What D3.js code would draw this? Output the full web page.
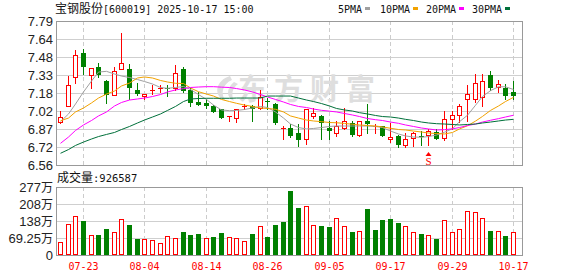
<!DOCTYPE html>
<html>
<head>
<meta charset="utf-8">
<script src="https://cdn.jsdelivr.net/npm/d3@7"></script>
<style>
body{margin:0;background:#fff;}
</style>
</head>
<body>
<svg id="chart" width="578" height="276"></svg>
<script>
// daily k-line data, 宝钢股份
var dates = ['07-18','07-21','07-22','07-23','07-24','07-25','07-28','07-29','07-30','07-31',
  '08-01','08-04','08-05','08-06','08-07','08-08','08-11','08-12','08-13','08-14',
  '08-15','08-18','08-19','08-20','08-21','08-22','08-25','08-26','08-27','08-28',
  '08-29','09-01','09-02','09-03','09-04','09-05','09-08','09-09','09-10','09-11',
  '09-12','09-15','09-16','09-17','09-18','09-19','09-22','09-23','09-24','09-25',
  '09-26','09-29','09-30','10-09','10-10','10-13','10-14','10-15','10-16','10-17'];

var open = [6.93,7.06,7.31,7.52,7.33,7.40,7.28,7.16,7.38,7.38,
  7.20,7.15,7.20,7.22,7.22,7.22,7.38,7.20,7.10,7.09,
  7.06,7.04,6.97,6.96,7.06,7.06,7.05,7.11,7.08,6.88,
  6.88,6.83,6.78,6.98,6.98,6.88,6.83,6.88,6.92,6.82,
  6.94,6.89,6.89,6.78,6.81,6.73,6.79,6.81,6.82,6.84,
  6.79,6.95,6.99,7.12,7.12,7.14,7.33,7.23,7.22,7.18];
var high = [7.02,7.32,7.54,7.55,7.39,7.43,7.29,7.40,7.69,7.42,
  7.26,7.17,7.24,7.24,7.24,7.41,7.40,7.22,7.18,7.12,
  7.07,7.04,6.98,7.04,7.08,7.07,7.20,7.13,7.09,6.89,
  6.91,6.91,7.04,7.05,6.99,6.94,6.94,7.05,6.94,6.94,
  7.08,6.91,6.89,6.92,6.82,6.83,6.84,6.85,6.87,6.87,
  7.02,7.02,7.08,7.24,7.34,7.34,7.36,7.29,7.25,7.28];
var low = [6.92,7.06,7.26,7.34,7.22,7.31,7.09,7.16,7.38,7.12,
  7.16,7.12,7.17,7.18,7.15,7.20,7.18,7.06,7.07,7.05,
  7.01,6.96,6.94,6.93,7.04,6.94,7.04,7.04,6.91,6.78,
  6.80,6.72,6.74,6.96,6.78,6.78,6.81,6.87,6.81,6.81,
  6.83,6.83,6.81,6.76,6.71,6.71,6.72,6.73,6.73,6.78,
  6.77,6.87,6.93,6.94,7.10,7.06,7.20,7.18,7.12,7.12];
var close = [6.97,7.24,7.50,7.40,7.39,7.33,7.16,7.36,7.43,7.22,
  7.17,7.17,7.20,7.22,7.21,7.35,7.19,7.09,7.07,7.06,
  7.01,6.96,6.98,7.04,7.06,7.04,7.14,7.10,6.92,6.88,
  6.81,6.77,7.04,7.00,6.92,6.85,6.89,6.94,6.82,6.94,
  6.91,6.89,6.81,6.80,6.73,6.78,6.83,6.80,6.85,6.78,
  6.95,6.99,7.06,7.17,7.26,7.28,7.22,7.25,7.15,7.15];

var volume = [530000,1260000,1590000,1385000,800000,815000,1060000,940000,1450000,1220000,
  650000,650000,610000,490000,760000,690000,940000,815000,855000,690000,
  730000,900000,730000,690000,570000,855000,1180000,730000,1220000,1345000,
  2607000,1928000,1996000,1222000,1181000,1141000,1494000,1181000,951000,978000,
  1874000,1019000,1426000,1467000,1304000,1181000,937000,856000,801000,652000,
  1426000,937000,1059000,1793000,1752000,1507000,978000,978000,774000,926587];
// 1 = red (up) volume bar, 0 = green
var volUp = [1,1,1,0,1,0,0,1,1,0,
  0,1,1,1,1,1,0,0,0,1,
  0,0,1,1,1,0,1,0,0,0,
  0,0,1,1,0,0,1,1,0,1,
  0,0,0,0,0,1,1,0,1,0,
  1,1,1,1,1,1,0,1,0,1];

var ma5 = [6.930,6.996,7.081,7.184,7.277,7.354,7.360,7.337,7.320,7.307,
  7.290,7.273,7.252,7.222,7.215,7.222,7.231,7.205,7.162,7.120,
  7.072,7.030,7.024,7.026,7.034,7.047,7.060,7.051,7.013,6.961,
  6.910,6.880,6.868,6.872,6.880,6.889,6.893,6.893,6.893,6.893,
  6.893,6.889,6.880,6.850,6.825,6.808,6.799,6.797,6.803,6.816,
  6.840,6.870,6.930,6.985,7.070,7.145,7.195,7.228,7.228,7.205];
var ma10 = [6.938,6.961,7.013,7.047,7.090,7.132,7.166,7.192,7.235,7.260,
  7.303,7.312,7.303,7.282,7.269,7.258,7.256,7.218,7.186,7.166,
  7.149,7.120,7.102,7.087,7.072,7.060,7.047,7.043,7.036,7.013,
  6.979,6.961,6.944,6.936,6.930,6.923,6.921,6.915,6.908,6.902,
  6.897,6.893,6.885,6.874,6.863,6.859,6.850,6.842,6.833,6.829,
  6.825,6.838,6.868,6.895,6.935,6.975,7.026,7.064,7.102,7.138];
var ma20 = [6.745,6.799,6.855,6.902,6.940,6.979,7.013,7.064,7.094,7.115,
  7.124,7.132,7.145,7.162,7.184,7.201,7.213,7.222,7.226,7.229,
  7.229,7.225,7.222,7.213,7.201,7.184,7.162,7.141,7.120,7.098,
  7.077,7.060,7.051,7.038,7.027,7.020,7.013,7.000,6.987,6.974,
  6.957,6.947,6.940,6.927,6.916,6.902,6.889,6.876,6.868,6.859,
  6.862,6.869,6.880,6.897,6.910,6.927,6.942,6.956,6.970,6.985];
var ma30 = [6.660,6.692,6.727,6.756,6.782,6.803,6.821,6.838,6.863,6.889,
  6.919,6.944,6.970,6.996,7.026,7.060,7.102,7.124,7.128,7.130,
  7.130,7.130,7.130,7.132,7.132,7.132,7.132,7.149,7.149,7.149,
  7.149,7.132,7.115,7.102,7.085,7.064,7.043,7.030,7.021,7.007,
  6.996,6.983,6.974,6.970,6.961,6.950,6.940,6.927,6.919,6.913,
  6.910,6.906,6.902,6.906,6.910,6.919,6.927,6.936,6.944,6.950];

var priceTicks = ['6.56','6.72','6.87','7.02','7.18','7.33','7.48','7.64','7.79'];
var volTicks = ['0','69.25万','138万','208万','277万'];
var dateTicks = ['07-23','08-04','08-14','08-26','09-05','09-17','09-29','10-17'];
var maNames = ['5PMA','10PMA','20PMA','30PMA'];
var maColors = ['#a0a0a0','#f2a200','#ff00ff','#00703a'];

var left = 56, right = 522, pTop = 21, pBot = 165, vTop = 187, vBot = 255;
var RED = '#ff0000', GREEN = '#008000';
var mono = 'DejaVu Sans Mono', cjk = 'Noto Sans CJK SC';

var svg = d3.select('#chart');

var x = d3.scaleBand().domain(dates).range([left, left + 7.68 * dates.length]);
function cx(d){ return Math.round(x(d) + x.bandwidth() / 2); }
var y = d3.scaleLinear().domain([6.56, 7.79]).range([pBot, pTop]);
var yv = d3.scaleLinear().domain([0, 2770000]).range([vBot, vTop]);

// mixed cjk / ascii text
function mixed(sel, str, asc, cj){
  str.match(/[\u4e00-\u9fff]+|[^\u4e00-\u9fff]+/g).forEach(function(p){
    var isC = /[\u4e00-\u9fff]/.test(p);
    sel.append('tspan').text(p)
      .attr('font-family', isC ? cjk : mono)
      .attr('font-size', isC ? cj : asc);
  });
  return sel;
}

// grid
var grid = svg.append('g');
priceTicks.forEach(function(t, k){
  var yy = Math.round(y(6.56 + k * (7.79 - 6.56) / 8)) + 0.5;
  grid.append('line').attr('x1', left).attr('x2', right).attr('y1', yy).attr('y2', yy)
    .attr('stroke', '#cfcfcf');
  svg.append('text').attr('x', 53).attr('y', yy + 4.5).attr('text-anchor', 'end')
    .attr('font-family', 'Liberation Sans').attr('font-size', 13).attr('fill', '#222').text(t);
});
volTicks.forEach(function(t, k){
  var yy = Math.round(yv(k * 2770000 / 4)) + 0.5;
  grid.append('line').attr('x1', left).attr('x2', right).attr('y1', yy).attr('y2', yy)
    .attr('stroke', '#cfcfcf');
  var tx = svg.append('text').attr('x', 53).attr('y', yy + 4.5).attr('text-anchor', 'end')
    .attr('fill', '#222');
  t.match(/[\u4e00-\u9fff]+|[^\u4e00-\u9fff]+/g).forEach(function(p){
    var isC = /[\u4e00-\u9fff]/.test(p);
    tx.append('tspan').text(p).attr('font-family', isC ? cjk : 'Liberation Sans')
      .attr('font-size', isC ? 12 : 13);
  });
});
dateTicks.forEach(function(d){
  var xx = cx(d) + 0.5;
  [[pTop, pBot], [vTop, vBot]].forEach(function(r){
    grid.append('line').attr('x1', xx).attr('x2', xx).attr('y1', r[0]).attr('y2', r[1])
      .attr('stroke', '#cccccc').attr('stroke-dasharray', '4,3');
  });
  svg.append('text').attr('x', xx).attr('y', 270).attr('text-anchor', 'middle')
    .attr('font-family', mono).attr('font-size', 10).attr('fill', RED).text(d);
});

// watermark
var wm = svg.append('g').attr('fill', '#dedede');
wm.append('path').attr('d', 'M230,76 C216,80 212,96 226,101 C220,95 222,84 232,80 Z M234,82 C226,88 226,98 234,101 C231,95 232,88 238,84 Z');
wm.append('text').attr('x', 238).attr('y', 100).attr('font-family', cjk).attr('font-weight', 'bold')
  .attr('font-size', 29).attr('letter-spacing', 7).text('东方财富');

// borders
svg.append('rect').attr('x', left + 0.5).attr('y', pTop + 0.5).attr('width', right - left)
  .attr('height', pBot - pTop).attr('fill', 'none').attr('stroke', '#999');
svg.append('rect').attr('x', left + 0.5).attr('y', vTop + 0.5).attr('width', right - left)
  .attr('height', vBot - vTop).attr('fill', 'none').attr('stroke', '#999');

// candles
var idx = d3.range(dates.length);
function up(i){ return close[i] >= open[i]; }
var cg = svg.append('g');
cg.selectAll('line').data(idx).join('line')
  .attr('x1', function(i){ return cx(dates[i]) + 0.5; })
  .attr('x2', function(i){ return cx(dates[i]) + 0.5; })
  .attr('y1', function(i){ return Math.round(y(high[i])); })
  .attr('y2', function(i){ return Math.round(y(low[i])) + 1; })
  .attr('stroke', function(i){ return up(i) ? RED : GREEN; });
cg.selectAll('rect').data(idx).join('rect')
  .each(function(i){
    var s = d3.select(this), c = cx(dates[i]);
    var yo = Math.round(y(open[i])), yc = Math.round(y(close[i]));
    if (up(i)) {
      if (yo - yc < 2) {
        s.attr('x', c - 2).attr('y', yc).attr('width', 5).attr('height', Math.max(yo - yc, 1)).attr('fill', RED);
      } else {
        s.attr('x', c - 1.5).attr('y', yc + 0.5).attr('width', 4).attr('height', yo - yc)
          .attr('fill', '#fff').attr('stroke', RED);
      }
    } else {
      s.attr('x', c - 2).attr('y', yo).attr('width', 5).attr('height', Math.max(yc - yo, 1)).attr('fill', GREEN);
    }
  });

// moving averages
[ma5, ma10, ma20, ma30].forEach(function(arr, k){
  var line = d3.line()
    .x(function(d, i){ return cx(dates[i]) + 0.5; })
    .y(function(d){ return y(d); });
  svg.append('path').datum(arr).attr('d', line).attr('fill', 'none')
    .attr('stroke', maColors[k]).attr('stroke-width', 1);
});

// volume
svg.append('g').selectAll('rect').data(idx).join('rect')
  .each(function(i){
    var s = d3.select(this), c = cx(dates[i]), yy = Math.round(yv(volume[i]));
    if (volUp[i]) {
      s.attr('x', c - 1.5).attr('y', yy + 0.5).attr('width', 4).attr('height', vBot - yy - 1)
        .attr('fill', '#fff').attr('stroke', RED);
    } else {
      s.attr('x', c - 2).attr('y', yy).attr('width', 5).attr('height', vBot - yy).attr('fill', GREEN);
    }
  });

// S marker under candle 09-24
var sx = cx('09-24') + 0.5;
svg.append('path').attr('d', 'M' + (sx - 3) + ',156 L' + sx + ',152 L' + (sx + 3) + ',156 Z').attr('fill', RED);
svg.append('text').attr('x', sx).attr('y', 164.5).attr('text-anchor', 'middle')
  .attr('font-family', 'Liberation Serif').attr('font-size', 11).attr('fill', RED).text('S');

// title and volume caption
mixed(svg.append('text').attr('x', 55).attr('y', 13).attr('fill', '#111'),
  '宝钢股份[600019] 2025-10-17 15:00', 10, 12);
mixed(svg.append('text').attr('x', 57).attr('y', 182).attr('fill', '#111'),
  '成交量:' + volume[volume.length - 1], 10.5, 12);

// legend
var lx = [338, 380, 426, 472];
maNames.forEach(function(n, k){
  svg.append('text').attr('x', lx[k]).attr('y', 13).attr('font-family', mono)
    .attr('font-size', 10).attr('fill', '#111').text(n);
  svg.append('rect').attr('x', lx[k] + n.length * 6 + 3).attr('y', 7).attr('width', 5).attr('height', 3)
    .attr('fill', maColors[k]);
});
</script>
</body>
</html>
